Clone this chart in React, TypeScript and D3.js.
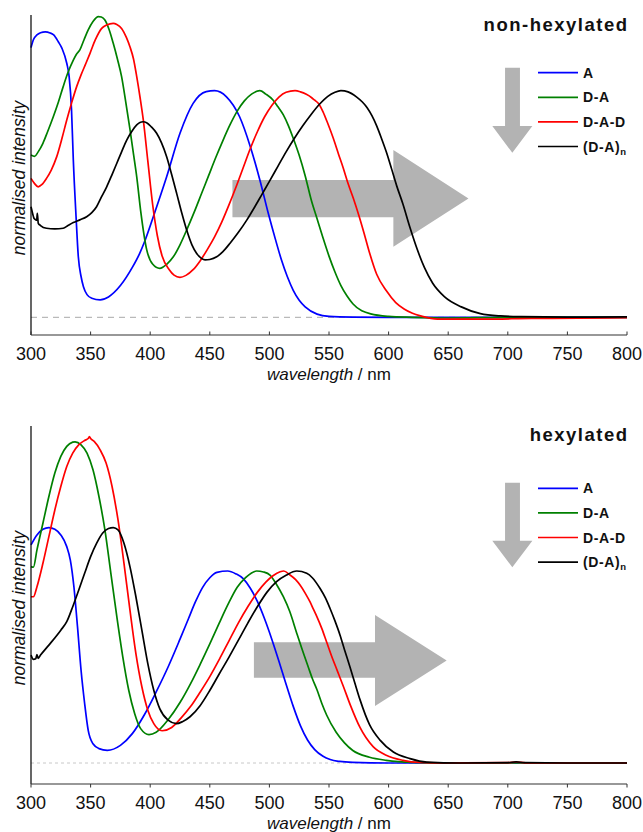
import React from "react";
import * as d3 from "d3";

type P = [number, number];

// ---------- data: top panel (non-hexylated) ----------
const topA: P[] = [[300,1.19],[302,1.225],[305,1.246],[308,1.256],[312,1.26],[316,1.255],[319,1.246],[323,1.215],[326,1.187],[330,1.121],[332,1.062],[334,0.915],[335.5,0.694],[337.8,0.444],[339.7,0.267],[342,0.18],[344,0.135],[347,0.1],[351,0.084],[358,0.077],[365,0.09],[375,0.14],[385,0.22],[391,0.28],[395,0.33],[402.6,0.444],[413.8,0.62],[425,0.812],[436,0.944],[447,0.996],[454,1.0],[464,0.973],[475,0.885],[484,0.753],[492,0.606],[499,0.46],[505,0.345],[510,0.255],[515,0.18],[520,0.119],[525,0.075],[530,0.046],[540,0.014],[550,0.004],[570,0.001],[600,0],[650,0],[700,0],[750,0],[800,0]];
const topDA: P[] = [[300,0.716],[303,0.71],[306,0.73],[310,0.768],[314,0.82],[318.7,0.885],[323,0.95],[327,1.018],[331,1.08],[335.5,1.135],[338,1.16],[341,1.18],[344.5,1.225],[348,1.268],[352,1.305],[356.5,1.327],[359,1.325],[362,1.312],[365.5,1.27],[369,1.209],[372.5,1.14],[376,1.062],[379.5,0.95],[383,0.83],[386,0.72],[388.7,0.62],[392,0.47],[397,0.3],[402,0.235],[408,0.216],[414,0.235],[419.4,0.267],[425,0.32],[431,0.39],[437,0.465],[443,0.545],[449,0.625],[455,0.705],[461,0.78],[467,0.85],[473,0.91],[479,0.955],[485,0.985],[492,1.0],[497,0.985],[503,0.959],[507,0.93],[511.7,0.893],[516,0.845],[520,0.79],[525,0.715],[530,0.625],[535,0.52],[540,0.435],[545,0.35],[550,0.27],[555,0.2],[560,0.14],[565,0.095],[570,0.06],[585,0.015],[600,0.004],[620,0],[650,-0.003],[700,0],[750,0],[800,0]];
const topDAD: P[] = [[300,0.613],[303,0.59],[306,0.576],[309,0.585],[313,0.613],[317,0.65],[321.6,0.709],[326,0.79],[330,0.871],[334,0.945],[338.3,1.018],[342,1.07],[346,1.12],[349.5,1.165],[354,1.225],[359.3,1.275],[363.5,1.29],[369,1.297],[372,1.292],[376,1.275],[380,1.235],[383,1.194],[386,1.14],[388.7,1.062],[391.5,0.97],[394.2,0.871],[398,0.69],[402,0.5],[406,0.36],[410,0.27],[416,0.21],[420,0.186],[425,0.176],[430,0.185],[436,0.21],[442,0.25],[448,0.3],[454,0.355],[460,0.42],[466,0.495],[472,0.575],[478,0.66],[484,0.745],[490,0.82],[496,0.885],[502,0.935],[508,0.972],[514,0.993],[521.5,1.0],[526,0.995],[531,0.984],[535.5,0.969],[538,0.958],[541,0.945],[545,0.907],[549,0.855],[553.6,0.79],[558,0.72],[562,0.658],[566,0.59],[570.4,0.525],[575,0.45],[580,0.36],[584,0.285],[590,0.19],[598,0.118],[606,0.065],[613,0.037],[620,0.018],[627,0.006],[641,-0.008],[680,-0.008],[720,-0.005],[760,-0.004],[800,-0.002]];
const topDAn: P[] = [[300,0.488],[301.5,0.455],[302.5,0.437],[304,0.43],[304.8,0.429],[305.3,0.459],[306.1,0.415],[308,0.405],[313,0.393],[320,0.39],[327,0.393],[331,0.405],[335.5,0.418],[341,0.43],[346.7,0.444],[351,0.462],[355,0.488],[359,0.53],[363.5,0.576],[368,0.63],[372,0.68],[376,0.73],[380.3,0.782],[384.5,0.82],[388.7,0.849],[391.4,0.86],[394,0.863],[397,0.859],[401,0.84],[405.4,0.812],[409.5,0.77],[413.8,0.709],[418,0.63],[422.2,0.547],[426.5,0.46],[430.6,0.385],[435,0.32],[439,0.282],[443,0.26],[446,0.253],[450,0.255],[455.8,0.267],[461,0.29],[467,0.327],[474,0.375],[481,0.429],[488,0.49],[494,0.545],[500,0.6],[507,0.665],[514,0.73],[521,0.79],[528,0.845],[535,0.895],[542,0.94],[549,0.975],[555,0.993],[560,1.0],[566,0.995],[573,0.973],[578,0.95],[582,0.925],[586,0.89],[590,0.845],[594,0.79],[598.4,0.725],[602.5,0.655],[606.8,0.58],[612,0.5],[618,0.395],[624,0.3],[630,0.22],[637,0.15],[647,0.09],[661,0.046],[677,0.016],[694,0.006],[711,0.003],[750,0.001],[800,0.002]];

// ---------- data: bottom panel (hexylated) ----------
const botA: P[] = [[300,1.136],[305,1.188],[310,1.217],[315,1.226],[320,1.217],[325,1.188],[330,1.127],[333,1.057],[336,0.918],[339,0.71],[342,0.483],[345,0.31],[348,0.17],[352,0.1],[357,0.075],[364,0.066],[375,0.092],[385,0.153],[395,0.25],[405,0.37],[415,0.5],[425,0.645],[432,0.75],[438,0.84],[444,0.915],[450,0.965],[456,0.993],[465,1.0],[472,0.985],[478,0.96],[484,0.91],[490,0.84],[496,0.75],[502,0.645],[508,0.53],[514,0.41],[520,0.295],[526,0.195],[532,0.12],[538,0.07],[545,0.035],[551,0.018],[559,0.008],[570,0.003],[600,0],[650,0],[700,0],[750,0],[800,0]];
const botDA: P[] = [[300,1.023],[302,1.02],[305,1.11],[310,1.249],[315,1.388],[320,1.51],[325,1.597],[330,1.649],[335,1.671],[337,1.673],[342,1.657],[347,1.614],[352,1.527],[357,1.388],[362,1.214],[367,0.988],[372,0.762],[377,0.553],[382,0.379],[387,0.257],[392,0.179],[399,0.148],[405,0.16],[415,0.225],[425,0.315],[434,0.415],[442,0.515],[450,0.62],[458,0.73],[466,0.835],[473,0.915],[480,0.965],[485,0.99],[489.3,1.0],[495,0.995],[500.5,0.979],[506,0.93],[511.7,0.866],[517,0.79],[523,0.675],[527,0.6],[532.6,0.5],[536,0.44],[540,0.38],[544,0.31],[548,0.25],[556,0.16],[563,0.105],[570,0.065],[584,0.03],[598,0.014],[620,0.003],[650,0],[700,0],[750,0],[800,0]];
const botDAD: P[] = [[300,0.866],[302,0.866],[305,0.918],[310,1.04],[315,1.179],[320,1.318],[325,1.44],[330,1.544],[335,1.614],[340,1.657],[345,1.68],[348,1.69],[349,1.7],[350,1.69],[353,1.675],[358,1.631],[363,1.562],[368,1.44],[373,1.266],[378,1.04],[383,0.797],[388,0.57],[393,0.397],[398,0.275],[403,0.205],[410,0.168],[418,0.185],[426,0.235],[434,0.295],[442,0.37],[450,0.45],[458,0.54],[466,0.635],[474,0.73],[482,0.815],[490,0.89],[497,0.942],[503,0.975],[509,0.996],[512,1.0],[517.3,0.979],[522,0.955],[525.7,0.927],[530,0.885],[534,0.84],[537,0.8],[540,0.76],[544,0.7],[548,0.63],[552,0.56],[557,0.48],[562,0.4],[568,0.3],[576,0.185],[587,0.085],[598,0.04],[612,0.014],[626,0.003],[650,0],[700,0.002],[707,0.005],[715,0.001],[750,0],[800,0]];
const botDAn: P[] = [[300,0.562],[302,0.54],[304,0.543],[305,0.565],[306,0.545],[308,0.562],[315,0.614],[325,0.692],[330,0.736],[335,0.814],[340,0.9],[345,0.988],[350,1.075],[355,1.144],[360,1.197],[365,1.221],[369,1.226],[373,1.214],[378,1.144],[383,1.023],[388,0.866],[393,0.692],[398,0.518],[403,0.379],[408,0.283],[415,0.223],[422,0.205],[427,0.215],[433.4,0.241],[442,0.3],[450.2,0.38],[458,0.465],[466,0.55],[474,0.64],[482,0.73],[490,0.815],[498,0.89],[506,0.945],[514,0.978],[523,1.0],[531.3,0.988],[536,0.965],[542.4,0.91],[547,0.86],[550.8,0.806],[555,0.74],[559.2,0.667],[563,0.59],[567.6,0.5],[572,0.41],[576,0.33],[584,0.2],[593,0.118],[604,0.057],[618,0.023],[632,0.005],[660,0],[700,0.002],[707,0.006],[714,0.002],[750,0],[800,0]];

const seriesNames = ["A", "D-A", "D-A-D", "(D-A)n"];
const seriesColors = ["#0000ff", "#008000", "#ff0000", "#000000"];
const xTicks = [300, 350, 400, 450, 500, 550, 600, 650, 700, 750, 800];

// annotation arrows in data units (nm along x, normalised intensity along y)
const topRightArrow = { x0: 469, xh: 604, xt: 667, s0: 0.606, s1: 0.441, h0: 0.738, h1: 0.311 };
const topDownArrow = { xs0: 697.7, xs1: 710.2, xh0: 687, xh1: 720.6, y0: 1.101, yh: 0.844, yt: 0.726 };
const botRightArrow = { x0: 487, xh: 588.6, xt: 648.7, s0: 0.629, s1: 0.444, h0: 0.771, h1: 0.297 };
const botDownArrow = { xs0: 697.7, xs1: 710.2, xh0: 687, xh1: 720.6, y0: 1.46, yh: 1.158, yt: 1.019 };

const FONT = "'Liberation Sans', Arial, Helvetica, sans-serif";

interface PanelProps {
  data: P[][];
  title: string;
  y0px: number;
  y1px: number;
  axisTop: number;
  axisBottom: number;
  rArrow: typeof topRightArrow;
  dArrow: typeof topDownArrow;
  legendY: number;
  titleY: number;
  dash: string;
  dashColor: string;
  tickDir: number;
}

function Panel(p: PanelProps) {
  const x = d3.scaleLinear().domain([300, 800]).range([31, 627]);
  const y = d3.scaleLinear().domain([0, 1]).range([p.y0px, p.y1px]);
  const line = d3
    .line<P>()
    .x((d) => x(d[0]))
    .y((d) => y(d[1]))
    .curve(d3.curveMonotoneX);
  const ra = p.rArrow;
  const rPts = [
    [ra.x0, ra.s0], [ra.xh, ra.s0], [ra.xh, ra.h0], [ra.xt, (ra.h0 + ra.h1) / 2],
    [ra.xh, ra.h1], [ra.xh, ra.s1], [ra.x0, ra.s1],
  ].map(([a, b]) => `${x(a)},${y(b)}`).join(" ");
  const da = p.dArrow;
  const dPts = [
    [da.xs0, da.y0], [da.xs1, da.y0], [da.xs1, da.yh], [da.xh1, da.yh],
    [(da.xh0 + da.xh1) / 2, da.yt], [da.xh0, da.yh], [da.xs0, da.yh],
  ].map(([a, b]) => `${x(a)},${y(b)}`).join(" ");
  const midY = (p.axisTop + p.axisBottom) / 2;
  return (
    <g>
      <polygon points={rPts} fill="#b3b3b3" />
      <polygon points={dPts} fill="#b3b3b3" />
      <line x1={31} x2={627} y1={y(0)} y2={y(0)} stroke={p.dashColor} strokeWidth={1} strokeDasharray={p.dash} />
      {p.data.map((d, i) => (
        <path key={i} d={line(d) || ""} fill="none" stroke={seriesColors[i]} strokeWidth={1.7} strokeLinejoin="round" />
      ))}
      <line x1={31} x2={31} y1={p.axisTop} y2={p.axisBottom} stroke="#000" strokeWidth={1.2} />
      <line x1={31} x2={627} y1={p.axisBottom} y2={p.axisBottom} stroke="#333" strokeWidth={1.2} />
      {xTicks.map((t) => (
        <g key={t}>
          <line x1={x(t)} x2={x(t)} y1={p.axisBottom} y2={p.axisBottom + 3.5 * p.tickDir} stroke="#333" strokeWidth={1} />
          <text x={x(t)} y={p.axisBottom + 25} textAnchor="middle" fontSize={18} fontFamily={FONT} fill="#111">{t}</text>
        </g>
      ))}
      <text x={329} y={p.axisBottom + 45} textAnchor="middle" fontSize={17} fontFamily={FONT} fill="#111">
        <tspan fontStyle="italic">wavelength</tspan> / nm
      </text>
      <text transform={`translate(25,${midY + 3}) rotate(-90)`} textAnchor="middle" fontSize={17.5} fontStyle="italic" fontFamily={FONT} fill="#111">
        normalised intensity
      </text>
      <text x={628.5} y={p.titleY} textAnchor="end" fontSize={18.5} fontWeight="bold" letterSpacing={1.5} fontFamily={FONT} fill="#111">
        {p.title}
      </text>
      {seriesNames.map((n, i) => {
        const ly = p.legendY + i * 24.6;
        return (
          <g key={n}>
            <line x1={538} x2={578} y1={ly} y2={ly} stroke={seriesColors[i]} strokeWidth={1.7} />
            <text x={583} y={ly + 5} fontSize={14} fontWeight="bold" letterSpacing={0.6} fontFamily={FONT} fill="#111">
              {n === "(D-A)n" ? (
                <>
                  (D-A)<tspan fontSize={9.5} dy={3}>n</tspan>
                </>
              ) : (
                n
              )}
            </text>
          </g>
        );
      })}
    </g>
  );
}

export default function App() {
  return (
    <svg width={643} height={832} style={{ position: "absolute", left: 0, top: 0, background: "#fff" }}>
      <rect width={643} height={832} fill="#fff" />
      <Panel
        data={[topA, topDA, topDAD, topDAn]}
        title="non-hexylated"
        y0px={317.3}
        y1px={90.7}
        axisTop={15}
        axisBottom={335}
        rArrow={topRightArrow}
        dArrow={topDownArrow}
        legendY={72.7}
        titleY={31}
        dash="6,5"
        dashColor="#a8a8a8"
        tickDir={-1}
      />
      <Panel
        data={[botA, botDA, botDAD, botDAn]}
        title="hexylated"
        y0px={763}
        y1px={571}
        axisTop={426}
        axisBottom={784}
        rArrow={botRightArrow}
        dArrow={botDownArrow}
        legendY={488.3}
        titleY={441}
        dash="3,3"
        dashColor="#c8c8c8"
        tickDir={1}
      />
    </svg>
  );
}
